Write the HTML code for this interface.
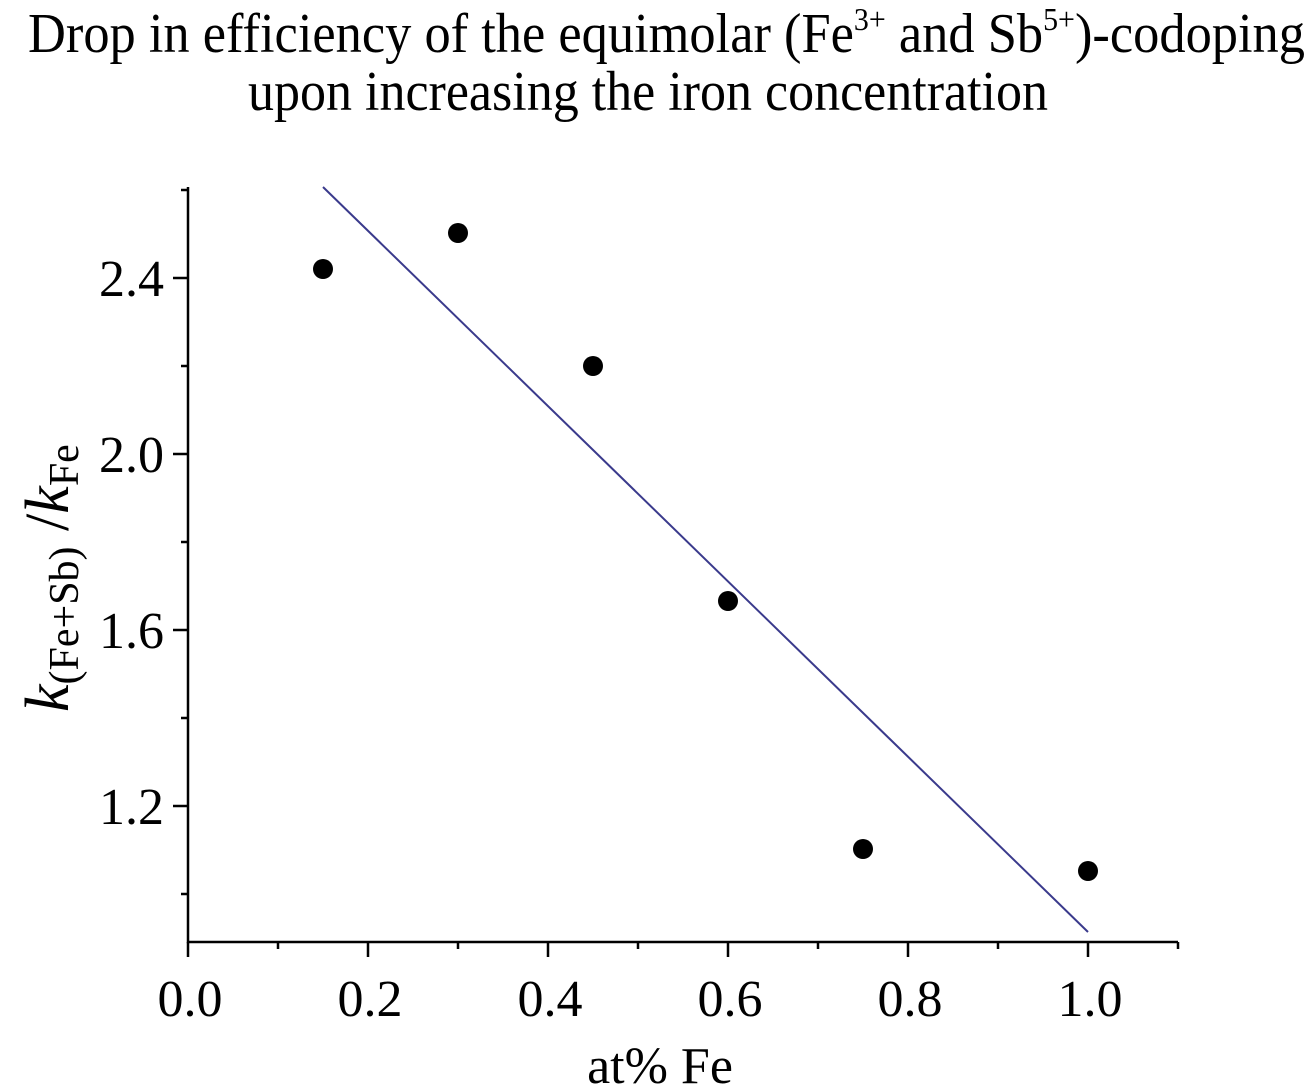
<!DOCTYPE html>
<html><head><meta charset="utf-8"><style>html,body{margin:0;padding:0;background:#fff}svg{display:block}</style></head>
<body>
<svg width="1307" height="1085" viewBox="0 0 1307 1085" xmlns="http://www.w3.org/2000/svg" font-family="Liberation Serif, serif" fill="#000">
<text x="28" y="52" font-size="56" textLength="1277" lengthAdjust="spacingAndGlyphs">Drop in efficiency of the equimolar (Fe<tspan font-size="32" dy="-22">3+</tspan><tspan dy="22"> and Sb</tspan><tspan font-size="32" dy="-22">5+</tspan><tspan dy="22">)-codoping</tspan></text>
<text x="248" y="110" font-size="56" textLength="800" lengthAdjust="spacingAndGlyphs">upon increasing the iron concentration</text>
<g stroke="#000" stroke-width="2.5" fill="none">
<path d="M188 187 V942 H1178"/>
<path d="M188 942 V957 M368 942 V957 M548 942 V957 M728 942 V957 M908 942 V957 M1088 942 V957"/>
<path d="M278 942 V949 M458 942 V949 M638 942 V949 M818 942 V949 M998 942 V949 M1178 942 V949"/>
<path d="M173 278 H188 M173 454 H188 M173 630 H188 M173 806 H188"/>
<path d="M181 190 H188 M181 366 H188 M181 542 H188 M181 718 H188 M181 894 H188"/>
</g>
<g font-size="52" text-anchor="middle">
<text x="190" y="1016">0.0</text><text x="370" y="1016">0.2</text><text x="550" y="1016">0.4</text><text x="730" y="1016">0.6</text><text x="910" y="1016">0.8</text><text x="1090" y="1016">1.0</text>
</g>
<g font-size="52" text-anchor="end">
<text x="164" y="296">2.4</text><text x="164" y="472">2.0</text><text x="164" y="648">1.6</text><text x="164" y="824">1.2</text>
</g>
<text x="660" y="1083" font-size="52" text-anchor="middle">at% Fe</text>
<text transform="translate(68,712) rotate(-90)" font-size="62"><tspan font-style="italic">k</tspan><tspan font-size="42" dy="10">(Fe+Sb)</tspan><tspan dy="-10"> /</tspan><tspan font-style="italic">k</tspan><tspan font-size="42" dy="10">Fe</tspan></text>
<line x1="323" y1="187" x2="1088" y2="932" stroke="#3a3a8c" stroke-width="2"/>
<g>
<circle cx="323" cy="269" r="10"/><circle cx="458" cy="233" r="10"/><circle cx="593" cy="366" r="10"/><circle cx="728" cy="601" r="10"/><circle cx="863" cy="849" r="10"/><circle cx="1088" cy="871" r="10"/>
</g>
</svg>
</body></html>
